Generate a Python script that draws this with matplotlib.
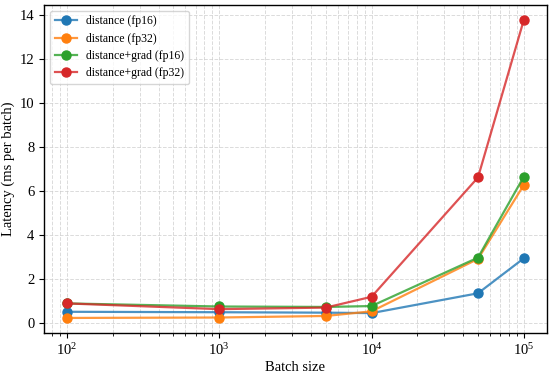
import numpy as np
import matplotlib
matplotlib.use("Agg")
import matplotlib.pyplot as plt
from matplotlib.colors import to_rgba

plt.rcParams['font.family'] = ['Liberation Serif', 'DejaVu Serif']

batch_sizes = [100, 1000, 5000, 10000, 50000, 100000]

dist_fp16 = [0.52, 0.50, 0.48, 0.46, 1.36, 2.95]
dist_fp32 = [0.24, 0.26, 0.33, 0.54, 2.92, 6.28]
grad_fp16 = [0.90, 0.76, 0.74, 0.78, 2.98, 6.66]
grad_fp32 = [0.90, 0.64, 0.71, 1.20, 6.62, 13.78]

labels = ['distance (fp16)', 'distance (fp32)', 'distance+grad (fp16)', 'distance+grad (fp32)']
series = [dist_fp16, dist_fp32, grad_fp16, grad_fp32]
colors = ['#1f77b4', '#ff7f0e', '#2ca02c', '#d62728']

fig = plt.figure(figsize=(5.5, 3.74), dpi=100)
ax = fig.add_axes([0.08, 0.11, 0.914, 0.877])

for lab, vals, c in zip(labels, series, colors):
    ax.plot(batch_sizes, vals, marker='o', markersize=6.5, linewidth=1.6,
            color=to_rgba(c, 0.8), markerfacecolor=c, markeredgecolor=c,
            label=lab)

ax.set_xscale('log')
ax.set_xlabel('Batch size', fontsize=10.5, labelpad=2)
ax.set_ylabel('Latency (ms per batch)', fontsize=10.5, labelpad=3)
ax.tick_params(labelsize=10.5)
ax.grid(True, which='both', linestyle='--', color='#cccccc', linewidth=0.7, alpha=0.7)
for s in ax.spines.values():
    s.set_linewidth(1.0)

leg = ax.legend(loc='upper left', fontsize=8.5, framealpha=0.8,
                handlelength=1.9, labelspacing=0.45)

fig.savefig('out.png', dpi=100)
